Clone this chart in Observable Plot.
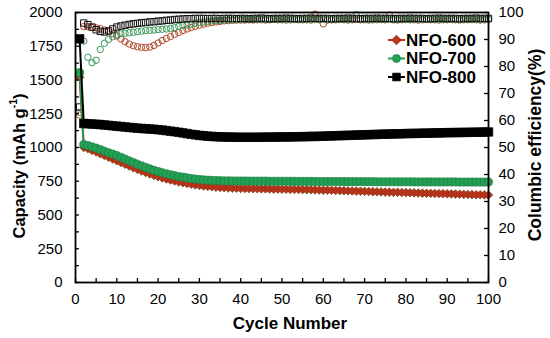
<!DOCTYPE html>
<html><head><meta charset="utf-8">
<script src="https://cdn.jsdelivr.net/npm/d3@7"></script>
<script src="https://cdn.jsdelivr.net/npm/@observablehq/plot@0.6"></script>
<style>
body{margin:0;background:#fff;}
#chart svg{display:block;}
</style></head><body><div id="chart"></div>
<script>
// ---- data (cycle n = index + 1) ----
const seriesNames = ["NFO-600", "NFO-700", "NFO-800"];

const cap600 = [1520,1001,991,979,967,954,941,928,915,902,
 889,876,863,850,838,826,815,804,794,784,
 775,767,759,752,745,739,733,728,723,719,
 715,712,709,706,704,702,700,699,698,697,
 696,696,695,695,694,694,693,692,692,691,
 691,690,690,689,688,688,687,686,685,684,
 684,683,682,681,680,679,678,677,676,675,
 674,673,672,671,670,669,668,668,667,666,
 665,664,663,662,661,660,659,659,658,657,
 656,655,654,653,652,651,650,650,649,648];

const cap700 = [1555,1022,1014,1005,995,984,972,961,951,940,
 927,914,901,888,876,864,852,841,831,822,
 813,805,798,791,785,780,775,770,766,763,
 760,758,756,755,754,753,753,752,752,752,
 752,751,751,751,751,751,750,750,750,750,
 750,750,749,749,749,749,749,748,748,748,
 748,748,748,748,747,747,747,747,747,747,
 747,747,746,746,746,746,746,746,746,746,
 746,745,745,745,745,745,745,745,745,745,
 745,745,744,744,744,744,744,744,744,744];

const cap800 = [1805,1178,1176,1174,1172,1170,1167,1164,1161,1158,
 1155,1152,1149,1146,1143,1141,1139,1137,1135,1132,
 1129,1125,1121,1117,1113,1108,1103,1098,1094,1090,
 1087,1084,1082,1080,1079,1078,1077,1077,1076,1076,
 1076,1076,1076,1076,1076,1077,1077,1077,1078,1078,
 1078,1079,1079,1080,1080,1081,1082,1082,1083,1084,
 1085,1086,1087,1088,1089,1090,1091,1092,1093,1094,
 1095,1096,1097,1098,1099,1100,1101,1101,1102,1103,
 1104,1104,1105,1106,1106,1107,1108,1108,1109,1110,
 1110,1111,1111,1112,1112,1113,1113,1114,1114,1115];

const eff600 = [62.0,94.8,94.7,94.5,94.3,94.0,93.5,92.9,92.2,91.3,
 90.2,89.2,88.3,87.7,87.3,87.1,87.0,87.2,87.8,88.7,
 89.6,90.4,91.1,91.9,92.6,93.3,93.9,94.4,94.9,95.3,
 95.7,96.0,96.3,96.5,96.7,96.9,97.0,97.1,97.2,97.2,
 97.2,97.3,97.2,97.3,97.3,97.2,97.3,97.4,97.3,97.3,
 97.2,97.3,97.4,97.3,97.3,97.3,97.2,99.4,97.3,95.8,
 97.2,97.3,97.3,97.4,97.3,97.2,97.3,97.4,97.3,97.3,
 97.2,97.3,97.3,97.4,97.3,99.1,97.3,97.2,97.3,97.4,
 97.3,97.3,97.2,97.3,97.4,97.3,97.3,97.2,97.3,97.3,
 97.4,97.3,97.2,97.3,97.3,97.4,97.3,97.2,97.3,97.6];

const eff700 = [63.0,89.4,83.4,81.4,82.3,86.3,88.6,90.0,91.0,91.7,
 92.1,92.3,92.5,92.7,92.9,93.1,93.3,93.4,93.5,93.7,
 93.8,93.9,94.1,94.4,94.8,95.1,95.4,95.7,96.0,96.3,
 96.5,96.7,96.9,97.0,97.1,97.2,97.3,97.3,97.4,97.4,
 97.4,97.5,97.4,97.4,97.5,97.4,97.4,97.5,97.4,97.4,
 97.5,97.4,97.4,97.5,97.4,97.4,97.5,97.4,97.4,97.5,
 97.4,97.4,97.5,97.4,97.4,97.5,97.4,99.2,97.4,97.5,
 97.4,97.4,97.5,97.4,97.4,97.5,97.4,97.4,97.5,97.4,
 97.4,97.5,97.4,97.4,97.5,97.4,97.4,97.5,97.4,97.4,
 97.5,97.4,97.4,97.5,97.4,97.4,97.5,97.4,97.4,97.5];

const eff800 = [65.0,96.1,95.5,94.6,93.6,93.0,92.8,93.2,93.9,94.6,
 95.0,95.3,95.6,95.8,96.0,96.2,96.3,96.5,96.6,96.8,
 96.9,97.1,97.2,97.4,97.5,97.6,97.7,97.7,97.8,97.8,
 97.8,97.7,97.8,97.8,97.7,97.8,97.8,97.8,97.7,97.8,
 97.8,97.7,97.8,97.8,97.9,97.8,97.7,97.8,97.8,97.8,
 97.9,97.8,97.8,97.7,97.8,97.8,97.9,97.8,97.8,97.8,
 97.8,97.7,97.8,97.8,97.8,97.9,97.8,97.8,97.7,97.8,
 97.8,97.8,97.9,97.8,97.8,97.8,97.7,97.8,97.8,97.8,
 97.9,97.8,97.8,97.8,97.7,97.8,97.8,97.9,97.8,97.8,
 97.8,97.8,97.7,97.8,97.8,97.8,97.9,97.8,97.8,97.8];

const xTickLabels = [0,10,20,30,40,50,60,70,80,90,100];
const xMinorTicks = [5,15,25,35,45,55,65,75,85,95];
const capTickLabels = [0,250,500,750,1000,1250,1500,1750,2000];
const capMinorTicks = [125,375,625,875,1125,1375,1625,1875];
const effTickLabels = [0,10,20,30,40,50,60,70,80,90,100];

// ---- styles ----
const styles = {
  "NFO-600": {line:"#d8261a", fill:"#c0301a", stroke:"#6e4416", sym:"diamond2", r:3.9, effStroke:"#b4472a", effSym:"circle", effR:3.2},
  "NFO-700": {line:"#22a055", fill:"#22a055", stroke:"#1e7e42", sym:"circle", r:4.1, effStroke:"#3c9a5a", effSym:"circle", effR:3.2},
  "NFO-800": {line:"#000000", fill:"#000000", stroke:"#000000", sym:"square", r:4.8, effStroke:"#111111", effSym:"square", effR:3.6}
};

const caps = {"NFO-600":cap600, "NFO-700":cap700, "NFO-800":cap800};
const effs = {"NFO-600":eff600, "NFO-700":eff700, "NFO-800":eff800};
const rowsOf = name => caps[name].map((v,i) => ({series:name, cycle:i+1, cap:v, eff:effs[name][i]}));

const W=550, H=338, ML=75, MR=62, MT=12, MB=56;
const pw = W-ML-MR, ph = H-MT-MB;
const EFF2CAP = 20; // right axis 0-100 % maps onto 0-2000
const TICKFONT = 15;

const marks = [];
for (const name of ["NFO-600","NFO-700","NFO-800"]) {
  const s = styles[name];
  marks.push(Plot.dot(rowsOf(name), {x:"cycle", y:d=>d.eff*EFF2CAP, symbol:s.effSym, r:s.effR, fill:"none", stroke:s.effStroke, strokeWidth:1}));
}
for (const name of ["NFO-600","NFO-700","NFO-800"]) {
  const s = styles[name];
  const rows = rowsOf(name);
  marks.push(Plot.line(rows, {x:"cycle", y:"cap", stroke:s.line, strokeWidth:2}));
  marks.push(Plot.dot(rows, {x:"cycle", y:"cap", symbol:s.sym, r:s.r, fill:s.fill, stroke:s.stroke, strokeWidth:0.7}));
}
marks.push(
  Plot.frame({stroke:"#000", strokeWidth:1.8}),
  Plot.axisX({ticks:xTickLabels, tickFormat:d=>String(d), tickSize:0, tickPadding:11, label:null, fontSize:TICKFONT}),
  Plot.axisY({ticks:capTickLabels, tickFormat:d=>String(d), tickSize:0, tickPadding:13, label:null, fontSize:TICKFONT}),
  Plot.axisY({anchor:"right", ticks:effTickLabels.map(v=>v*EFF2CAP), tickFormat:d=>String(d/EFF2CAP), tickSize:0, tickPadding:10, label:null, fontSize:TICKFONT}),
  Plot.tickX(xTickLabels.concat(xMinorTicks), {x:d=>d, insetTop:ph-4, stroke:"#000", strokeWidth:1.3}),
  Plot.tickY(capTickLabels.concat(capMinorTicks), {y:d=>d, insetRight:pw-4, stroke:"#000", strokeWidth:1.3}),
  Plot.tickY(effTickLabels.map(v=>v*EFF2CAP), {y:d=>d, insetLeft:pw-4, stroke:"#000", strokeWidth:1.3})
);

const plot = Plot.plot({
  width:W, height:H, marginLeft:ML, marginRight:MR, marginTop:MT, marginBottom:MB,
  style:{fontFamily:"'Liberation Sans', Arial, sans-serif", fontSize:"15px", color:"#000", background:"#fff"},
  x:{domain:[0,100]},
  y:{domain:[0,2000]},
  marks
});

const svg = d3.select(plot);
const font = "'Liberation Sans', Arial, sans-serif";

// axis titles
const lt = svg.append("text").attr("transform","translate(19,166) rotate(-90)")
  .attr("text-anchor","middle").attr("dominant-baseline","central")
  .attr("font-family",font).attr("font-weight","bold").attr("font-size",16.5).attr("fill","#000");
lt.append("tspan").text("Capacity (mAh g");
lt.append("tspan").attr("font-size",10.5).attr("dy",-6).text("-1");
lt.append("tspan").attr("dy",6).text(")");

svg.append("text").attr("transform","translate(535,145) rotate(-90)")
  .attr("text-anchor","middle").attr("dominant-baseline","central")
  .attr("font-family",font).attr("font-weight","bold").attr("font-size",17.5).attr("fill","#000")
  .text("Columbic efficiency(%)");

svg.append("text").attr("x",290).attr("y",323)
  .attr("text-anchor","middle").attr("dominant-baseline","central")
  .attr("font-family",font).attr("font-weight","bold").attr("font-size",17).attr("fill","#000")
  .text("Cycle Number");

// legend
const symPath = {
  "diamond2": d3.symbol(d3.symbolDiamond2, 60)(),
  "circle": d3.symbol(d3.symbolCircle, 50)(),
  "square": d3.symbol(d3.symbolSquare, 60)()
};
seriesNames.forEach((name,i) => {
  const s = styles[name];
  const y = 40 + i*18.5;
  const g = svg.append("g");
  g.append("line").attr("x1",388).attr("x2",405).attr("y1",y).attr("y2",y).attr("stroke",s.line).attr("stroke-width",2);
  g.append("path").attr("d",symPath[s.sym]).attr("transform",`translate(396.5,${y})`).attr("fill",s.fill).attr("stroke",s.stroke).attr("stroke-width",0.7);
  g.append("text").attr("x",406).attr("y",y).attr("text-anchor","start").attr("dominant-baseline","central")
    .attr("font-family",font).attr("font-weight","bold").attr("font-size",17).attr("fill","#000").text(name);
});

document.getElementById("chart").appendChild(plot);
</script>
</body></html>
